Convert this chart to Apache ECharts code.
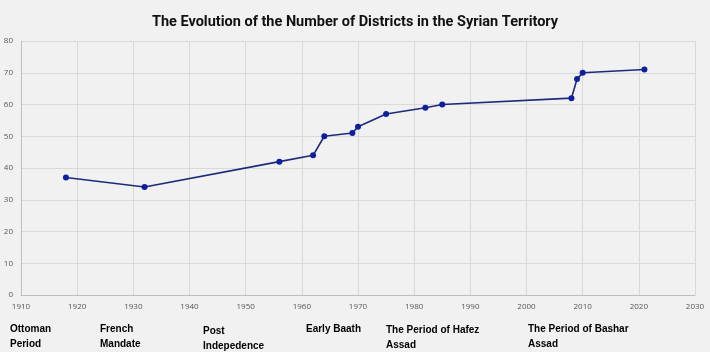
<!DOCTYPE html>
<html><head><meta charset="utf-8">
<script src="https://cdn.jsdelivr.net/npm/echarts@6/dist/echarts.min.js"></script>
<style>html,body{margin:0;padding:0;background:#f1f1f1}#c{width:710px;height:352px}</style>
</head><body><div id="c"></div>
<script>
var years = [1918, 1932, 1956, 1962, 1964, 1969, 1970, 1975, 1982, 1985, 2008, 2009, 2010, 2021];
var districts = [37, 34, 42, 44, 50, 51, 53, 57, 59, 60, 62, 68, 70, 71];
var periodLabels = ["Ottoman\nPeriod", "French\nMandate", "Post\nIndepedence", "Early Baath", "The Period of Hafez\nAssad", "The Period of Bashar\nAssad"];
var titleText = "The Evolution of the Number of Districts in the Syrian Territory";

var labelPos = [[10,322],[100,322],[203,324],[306,322],[386,323],[528,322]];
var chart = echarts.init(document.getElementById('c'));
var graphics = periodLabels.map(function(t,i){
  return {type:'text', left: labelPos[i][0], top: labelPos[i][1],
    style:{text:t, font:'bold 10px "Liberation Sans", Arial, sans-serif', fill:'#000', lineHeight:15}};
});
chart.setOption({
  backgroundColor:'#f1f1f1',
  animation:false,
  title:{text:titleText, left:'center', top:10,
    textStyle:{fontFamily:'Roboto, sans-serif', fontWeight:'bold', fontSize:14.5, color:'#111'}},
  grid:{left:21, right:15, top:41, bottom:57},
  xAxis:{type:'value', min:1910, max:2030, interval:10,
    axisLine:{show:true, lineStyle:{color:'#bfbfbf'}}, axisTick:{show:false},
    axisLabel:{color:'#555', fontSize:8, margin:8, fontFamily:'"Open Sans", sans-serif',
      formatter:function(v){return String(v);}},
    splitLine:{show:true, lineStyle:{color:'#d9d9d9'}}},
  yAxis:{type:'value', min:0, max:80, interval:10,
    axisLine:{show:true, lineStyle:{color:'#bfbfbf'}}, axisTick:{show:false},
    axisLabel:{color:'#555', fontSize:8, margin:8, fontFamily:'"Open Sans", sans-serif'},
    splitLine:{show:true, lineStyle:{color:'#d9d9d9'}}},
  series:[{type:'line', data: years.map(function(y,i){return [y, districts[i]];}),
    symbol:'circle', symbolSize:6, lineStyle:{color:'#1b2a7a', width:1.6},
    itemStyle:{color:'#0d1f9e'}}],
  graphic: graphics
});
</script></body></html>
